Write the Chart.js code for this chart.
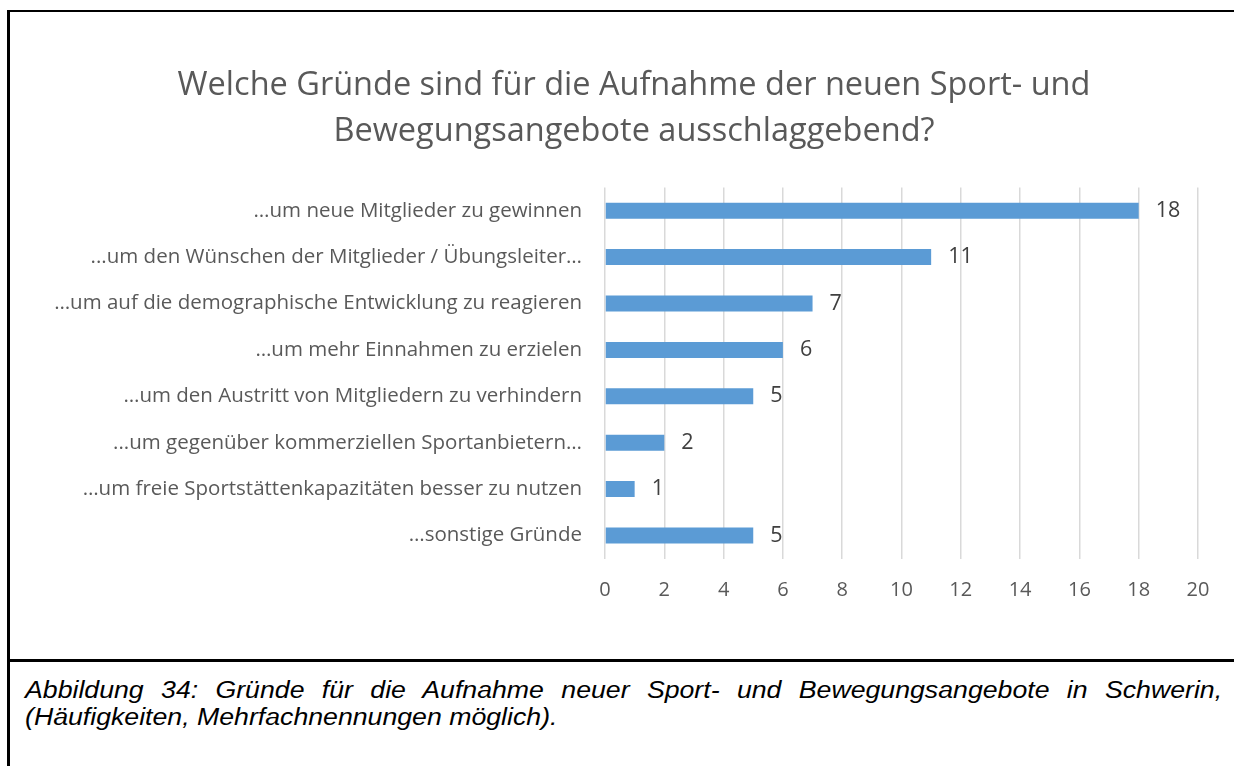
<!DOCTYPE html>
<html lang="de">
<head>
<meta charset="utf-8">
<title>Gründe für die Aufnahme neuer Sport- und Bewegungsangebote</title>
<script src="https://cdn.jsdelivr.net/npm/chart.js@4.4.1/dist/chart.umd.min.js"></script>
<style>
  html, body { margin: 0; padding: 0; background: #fff; width: 1234px; height: 766px; overflow: hidden; }
  #frame { position: absolute; left: 7px; top: 10px; width: 1400px; height: 900px; border-left: 3px solid #000; border-top: 2px solid #000; }
  #rule { position: absolute; left: 7px; top: 659px; width: 1400px; height: 3px; background: #000; }
  #box { position: absolute; left: 10px; top: 12px; width: 1248px; height: 646px; }
  #caption { position: absolute; left: 25px; top: 676.5px; width: 1032px; transform: scaleX(1.16); transform-origin: 0 0;
             font-family: 'Liberation Sans', Arial, sans-serif; font-style: italic; font-size: 23px; line-height: 27px; color: #000; }
  #caption .l1 { text-align: justify; text-align-last: justify; white-space: nowrap; }
</style>
</head>
<body>
<div id="frame"></div>
<div id="box"><canvas id="chart"></canvas></div>
<div id="rule"></div>
<div id="caption">
  <div class="l1">Abbildung 34: Gründe für die Aufnahme neuer Sport- und Bewegungsangebote in Schwerin,</div>
  <div>(Häufigkeiten, Mehrfachnennungen möglich).</div>
</div>
<script>
const FONT = "'Open Sans', 'Noto Sans', sans-serif";
const GREY = '#595959';

const chartTitle = [
  'Welche Gründe sind für die Aufnahme der neuen Sport- und',
  'Bewegungsangebote ausschlaggebend?'
];

const categories = [
  '…um neue Mitglieder zu gewinnen',
  '...um den Wünschen der Mitglieder / Übungsleiter…',
  '…um auf die demographische Entwicklung zu reagieren',
  '…um mehr Einnahmen zu erzielen',
  '…um den Austritt von Mitgliedern zu verhindern',
  '...um gegenüber kommerziellen Sportanbietern…',
  '…um freie Sportstättenkapazitäten besser zu nutzen',
  '…sonstige Gründe'
];

const counts = [18, 11, 7, 6, 5, 2, 1, 5];

const xTicks = [0, 2, 4, 6, 8, 10, 12, 14, 16, 18, 20];

// title centred on the whole canvas, not on the padded layout box
const centredTitle = {
  id: 'centredTitle',
  afterDraw(chart) {
    const ctx = chart.ctx;
    ctx.save();
    ctx.font = '32.5px ' + FONT;
    ctx.fillStyle = GREY;
    ctx.textAlign = 'center';
    ctx.textBaseline = 'middle';
    chartTitle.forEach((line, i) => ctx.fillText(line, chart.width / 2, 73.5 + i * 46));
    ctx.restore();
  }
};

// writes the count just right of each bar
const valueLabels = {
  id: 'valueLabels',
  afterDatasetsDraw(chart) {
    const ctx = chart.ctx;
    const meta = chart.getDatasetMeta(0);
    ctx.save();
    ctx.font = '21.5px ' + FONT;
    ctx.fillStyle = '#404040';
    ctx.textAlign = 'left';
    ctx.textBaseline = 'middle';
    meta.data.forEach((bar, i) => {
      ctx.fillText(String(counts[i]), bar.x + 17, bar.y);
    });
    ctx.restore();
  }
};

Chart.defaults.font.family = FONT;

new Chart(document.getElementById('chart').getContext('2d'), {
  type: 'bar',
  data: {
    labels: categories,
    datasets: [{
      data: counts,
      backgroundColor: '#5b9bd5',
      barPercentage: 0.345,
      categoryPercentage: 1
    }]
  },
  options: {
    indexAxis: 'y',
    responsive: true,
    maintainAspectRatio: false,
    animation: false,
    layout: { padding: { top: 175.5, left: 0, right: 60, bottom: 49.3 } },
    plugins: {
      legend: { display: false },
      tooltip: { enabled: false },
      title: { display: false }
    },
    scales: {
      x: {
        min: xTicks[0],
        max: xTicks[xTicks.length - 1],
        afterBuildTicks: scale => { scale.ticks = xTicks.map(v => ({ value: v })); },
        afterFit: scale => { scale.height = 50; },
        grid: { color: '#d9d9d9', lineWidth: 1.5, drawTicks: false },
        border: { display: false },
        ticks: { color: GREY, font: { size: 20 }, padding: 20 }
      },
      y: {
        afterFit: scale => { scale.width = 595; },
        grid: { display: false, drawTicks: false },
        border: { display: false },
        ticks: { color: GREY, font: { size: 20.5 }, padding: 23, autoSkip: false }
      }
    }
  },
  plugins: [centredTitle, valueLabels]
});
</script>
</body>
</html>
